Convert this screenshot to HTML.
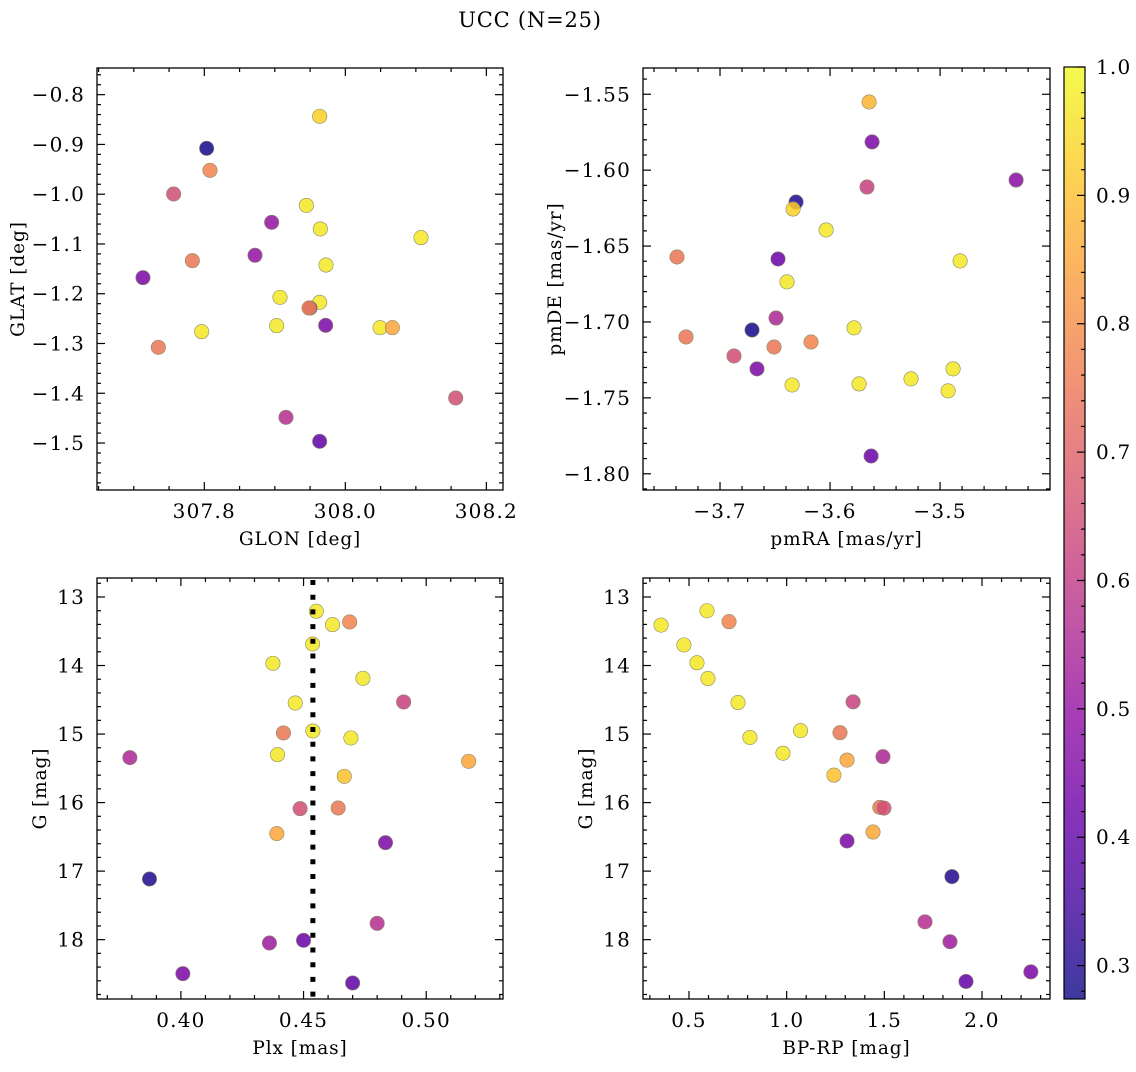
<!DOCTYPE html>
<html><head><meta charset="utf-8"><style>
body{margin:0;background:#fff;}
svg text{font-family:"DejaVu Serif","Liberation Serif",serif;fill:#000;}
</style></head><body>
<svg id="fig" width="1136" height="1067" xmlns="http://www.w3.org/2000/svg">
<text x="530" y="27" text-anchor="middle" font-size="21" letter-spacing="0.8">UCC (N=25)</text>
</svg>
<script>
// ---- data ----
const p1Glon=[307.9636,307.8033,307.8080,307.7565,307.9447,307.8955,307.9645,308.1073,307.8719,307.7830,307.9726,307.7130,307.9073,307.9636,307.9500,307.9485,307.7962,307.9026,307.9721,308.0492,308.0667,307.7348,308.1565,307.9158,307.9636];
const p1Glat=[-0.8435,-0.9078,-0.9520,-0.9996,-1.0224,-1.0565,-1.0699,-1.0873,-1.1228,-1.1336,-1.1423,-1.1677,-1.2072,-1.2173,-1.2287,-1.2287,-1.2762,-1.2642,-1.2635,-1.2682,-1.2682,-1.3077,-1.4095,-1.4484,-1.4966];
const p1Prob=[0.93,0.28,0.78,0.65,0.97,0.50,0.97,0.97,0.50,0.75,0.97,0.45,0.97,0.97,0.45,0.78,0.97,0.97,0.45,0.97,0.85,0.75,0.65,0.57,0.40];
const p2PmRA=[-3.5645,-3.5618,-3.5664,-3.4309,-3.6309,-3.6336,-3.6036,-3.7391,-3.6473,-3.4818,-3.6391,-3.6491,-3.6709,-3.5782,-3.7309,-3.6173,-3.6509,-3.6873,-3.6664,-3.4882,-3.5264,-3.6345,-3.5736,-3.4927,-3.5627];
const p2PmDE=[-1.5551,-1.5814,-1.6111,-1.6065,-1.6210,-1.6256,-1.6394,-1.6572,-1.6585,-1.6598,-1.6736,-1.6974,-1.7053,-1.7039,-1.7099,-1.7132,-1.7165,-1.7224,-1.7309,-1.7309,-1.7375,-1.7415,-1.7408,-1.7454,-1.7883];
const p2Prob=[0.88,0.45,0.62,0.48,0.30,0.93,0.97,0.75,0.42,0.97,0.97,0.55,0.28,0.97,0.75,0.78,0.75,0.65,0.45,0.97,0.97,0.97,0.97,0.97,0.42];
const p3Plx=[0.4552,0.4618,0.4688,0.4537,0.4375,0.4742,0.4908,0.4466,0.4418,0.4538,0.4693,0.3792,0.4394,0.5173,0.4666,0.4486,0.4641,0.4391,0.4834,0.3872,0.4800,0.4361,0.4500,0.4008,0.4700];
const p3G=[13.209,13.404,13.365,13.686,13.968,14.187,14.532,14.547,14.984,14.955,15.057,15.344,15.301,15.398,15.617,16.089,16.079,16.453,16.585,17.115,17.762,18.049,18.010,18.496,18.632];
const p3Prob=[0.97,0.97,0.78,0.97,0.97,0.97,0.62,0.97,0.75,0.97,0.97,0.55,0.97,0.85,0.90,0.65,0.75,0.85,0.45,0.30,0.57,0.52,0.42,0.45,0.40];
const meanPlx=0.4538;
const p4BpRp=[0.357,0.592,0.705,0.474,0.541,0.597,0.751,1.340,1.071,1.273,0.812,0.981,1.309,1.493,1.242,1.477,1.498,1.442,1.309,1.846,1.708,1.836,2.250,1.918];
const p4G=[13.41,13.20,13.36,13.70,13.96,14.19,14.54,14.53,14.95,14.98,15.05,15.28,15.38,15.33,15.60,16.07,16.08,16.43,16.56,17.08,17.74,18.03,18.47,18.61];
const p4Prob=[0.97,0.97,0.78,0.97,0.97,0.97,0.97,0.62,0.97,0.75,0.97,0.97,0.85,0.55,0.90,0.75,0.65,0.85,0.45,0.30,0.57,0.52,0.45,0.40];
const cbTicks=[0.3,0.4,0.5,0.6,0.7,0.8,0.9,1.0];
const vmin=0.274, vmax=1.0;

const NS="http://www.w3.org/2000/svg";
const svg=document.getElementById('fig');
function mk(tag,attrs,parent){const e=document.createElementNS(NS,tag);for(const k in attrs)e.setAttribute(k,attrs[k]);(parent||svg).appendChild(e);return e;}
const plasma=[[13,8,135],[65,4,157],[106,0,168],[143,13,164],[177,42,144],[204,71,120],[225,100,98],[242,132,75],[252,166,54],[252,206,37],[240,249,33]];
function cmap(v){let t=(v-vmin)/(vmax-vmin);t=Math.max(0,Math.min(1,t));const f=t*10,i=Math.min(9,Math.floor(f)),r=f-i;const a=plasma[i],b=plasma[i+1];return 'rgb('+a.map((c,k)=>Math.round(c+(b[k]-c)*r)).join(',')+')';}
function fmt(v,d){return (v<0?'\u2212':'')+Math.abs(v).toFixed(d);}
const TFS=20, TLS=1.2, LFS=18.5, LLS=0.9;

function panel(o){
  const g=mk('g',{});
  
  
  const sx=v=>o.x0+(v-o.xmin)/(o.xmax-o.xmin)*(o.x1-o.x0);
  const sy=o.yinv?(v=>o.y0+(v-o.ymin)/(o.ymax-o.ymin)*(o.y1-o.y0)):(v=>o.y1-(v-o.ymin)/(o.ymax-o.ymin)*(o.y1-o.y0));
  const pg=mk('g',{},g);
  
  
  for(let i=0;i<o.xs.length;i++){
    const c=mk('circle',{cx:sx(o.xs[i]),cy:sy(o.ys[i]),r:7.2,fill:cmap(o.cs[i]),'fill-opacity':0.85,stroke:'#8a8a6a','stroke-width':0.6},pg);
    
    
  }
  if(o.vline!==undefined){
    const l=mk('line',{x1:sx(o.vline),x2:sx(o.vline),y1:o.y0+2,y2:o.y1,stroke:'#000','stroke-width':5,'stroke-dasharray':'5 9.7'},g);
    
    
  }
  const tg=mk('g',{stroke:'#000','stroke-width':1.2},g);
  const eps=1e-9;
  for(let k=Math.ceil((o.xmin)/o.xminor-eps);k*o.xminor<=o.xmax+eps;k++){
    const v=k*o.xminor, x=sx(v);
    const major=Math.abs(v/o.xmajor-Math.round(v/o.xmajor))<1e-6;
    const L=major?8:4;
    mk('line',{x1:x,x2:x,y1:o.y1,y2:o.y1-L},tg);mk('line',{x1:x,x2:x,y1:o.y0,y2:o.y0+L},tg);
    if(major){const t=mk('text',{x:x,y:o.y1+28,'text-anchor':'middle','font-size':TFS,'letter-spacing':TLS,stroke:'none'},g);t.textContent=fmt(v,o.xd);
      }
  }
  for(let k=Math.ceil((o.ymin)/o.yminor-eps);k*o.yminor<=o.ymax+eps;k++){
    const v=k*o.yminor, y=sy(v);
    const major=Math.abs(v/o.ymajor-Math.round(v/o.ymajor))<1e-6;
    const L=major?8:4;
    mk('line',{x1:o.x0,x2:o.x0+L,y1:y,y2:y},tg);mk('line',{x1:o.x1,x2:o.x1-L,y1:y,y2:y},tg);
    if(major){const t=mk('text',{x:o.x0-12,y:y+7,'text-anchor':'end','font-size':TFS,'letter-spacing':TLS,stroke:'none'},g);t.textContent=fmt(v,o.yd);
      }
  }
  const fr=mk('rect',{x:o.x0,y:o.y0,width:o.x1-o.x0,height:o.y1-o.y0,fill:'none',stroke:'#000','stroke-width':1.3},g);
  
  const xl=mk('text',{x:(o.x0+o.x1)/2,y:o.y1+55,'text-anchor':'middle','font-size':LFS,'letter-spacing':LLS},g);xl.textContent=o.xlabel;
  
  const yl=mk('text',{x:0,y:0,'text-anchor':'middle','font-size':LFS,'letter-spacing':LLS,transform:'translate('+o.ylx+','+(o.y0+o.y1)/2+') rotate(-90)'},g);yl.textContent=o.ylabel;
  
}
panel({name:'glon-glat-panel',x0:97,x1:503,y0:68,y1:490,xmin:307.6478,xmax:308.2236,ymin:-1.5944,ymax:-0.7464,xmajor:0.2,xminor:0.05,ymajor:0.1,yminor:0.02,xd:1,yd:1,xs:p1Glon,ys:p1Glat,cs:p1Prob,xlabel:'GLON [deg]',ylabel:'GLAT [deg]',ylx:24});
panel({name:'pm-panel',x0:643,x1:1050,y0:68,y1:490,xmin:-3.770,xmax:-3.4001,ymin:-1.8107,ymax:-1.5327,xmajor:0.1,xminor:0.02,ymajor:0.05,yminor:0.01,xd:1,yd:2,xs:p2PmRA,ys:p2PmDE,cs:p2Prob,xlabel:'pmRA [mas/yr]',ylabel:'pmDE [mas/yr]',ylx:561});
panel({name:'plx-g-panel',x0:97,x1:503,y0:578,y1:999,xmin:0.3658,xmax:0.5313,ymin:12.723,ymax:18.866,yinv:true,xmajor:0.05,xminor:0.01,ymajor:1,yminor:0.2,xd:2,yd:0,xs:p3Plx,ys:p3G,cs:p3Prob,vline:meanPlx,xlabel:'Plx [mas]',ylabel:'G [mag]',ylx:46});
panel({name:'cmd-panel',x0:643,x1:1050,y0:578,y1:999,xmin:0.2646,xmax:2.348,ymin:12.723,ymax:18.866,yinv:true,xmajor:0.5,xminor:0.1,ymajor:1,yminor:0.2,xd:1,yd:0,xs:p4BpRp,ys:p4G,cs:p4Prob,xlabel:'BP-RP [mag]',ylabel:'G [mag]',ylx:592});

(function(){
  const x0=1064,x1=1085,y0=67,y1=999;
  const g=mk('g',{});
  
  
  const defs=mk('defs',{},g);
  const lg=mk('linearGradient',{id:'cbg',x1:0,y1:1,x2:0,y2:0},defs);
  for(let i=0;i<=20;i++){const v=vmin+(vmax-vmin)*i/20;mk('stop',{offset:i/20,'stop-color':cmap(v),'stop-opacity':0.8},lg);}
  mk('rect',{x:x0,y:y0,width:x1-x0,height:y1-y0,fill:'url(#cbg)',stroke:'#000','stroke-width':1.2},g);
  const sy=v=>y1-(v-vmin)/(vmax-vmin)*(y1-y0);
  for(let k=Math.ceil(vmin/0.02-1e-9);k*0.02<=vmax+1e-9;k++){
    const v=k*0.02,y=sy(v),major=Math.abs(v*10-Math.round(v*10))<1e-6;
    mk('line',{x1:x1,x2:x1-(major?8:4),y1:y,y2:y,stroke:'#000','stroke-width':1.2},g);
  }
  cbTicks.forEach(v=>{const t=mk('text',{x:x1+11,y:sy(v)+7,'font-size':TFS,'letter-spacing':TLS},g);t.textContent=v.toFixed(1);
    });
})();
</script>
</body></html>
